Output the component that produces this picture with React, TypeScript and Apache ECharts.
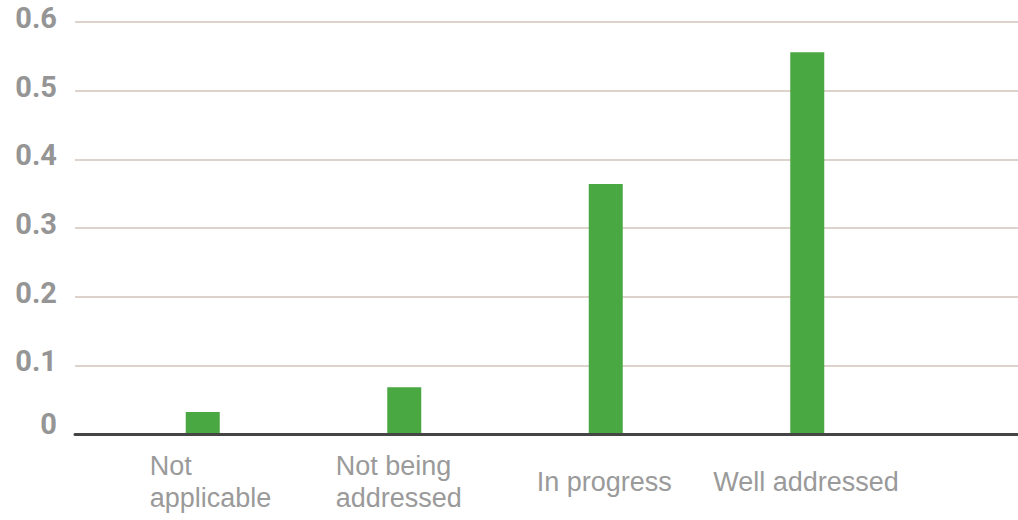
import React, { useEffect, useRef } from "react";
import * as echarts from "echarts";

const categories = ["Not\napplicable", "Not being\naddressed", "In progress", "Well addressed"];
const values = [0.032, 0.068, 0.364, 0.556];
const yTicks = { min: 0, max: 0.6, interval: 0.1 };
const labelPads = [[0, 0, 0, 18], [0, 8, 0, 0], [0, 0, 0, 0], [0, 0, 0, 0]];

export default function App() {
  const ref = useRef<HTMLDivElement>(null);
  useEffect(() => {
    if (!ref.current) return;
    const chart = echarts.init(ref.current, undefined, { renderer: "svg" });
    const yFont = "Roboto, 'DejaVu Sans Condensed', sans-serif";
    const xFontFamily = "'Liberation Sans', Arial, sans-serif";
    const xFontSize = 27;
    const ctx = document.createElement("canvas").getContext("2d");
    const measure = (s: string) => {
      if (!ctx) return s.length * xFontSize * 0.5;
      ctx.font = xFontSize + "px " + xFontFamily;
      return ctx.measureText(s).width;
    };
    const rich: Record<string, any> = {};
    categories.forEach((c, i) => {
      const w = Math.ceil(Math.max(...c.split("\n").map(measure))) + 2;
      rich["t" + i] = {
        fontFamily: xFontFamily,
        fontSize: xFontSize,
        color: "#9a9a9a",
        lineHeight: 32,
        width: w,
        align: "left",
        padding: labelPads[i],
      };
    });
    chart.setOption({
      animation: false,
      backgroundColor: "#ffffff",
      grid: [
        { left: 75, right: 0, top: 22, bottom: 86 },
        { left: 102, right: 110, top: 22, bottom: 86 },
      ],
      xAxis: [
        {
          type: "category",
          gridIndex: 0,
          data: [""],
          axisLine: { show: true, lineStyle: { color: "#454545", width: 3 } },
          axisTick: { show: false },
          axisLabel: { show: false },
          splitLine: { show: false },
          z: 5,
        },
        {
          type: "category",
          gridIndex: 1,
          data: categories,
          axisLine: { show: false },
          axisTick: { show: false },
          splitLine: { show: false },
          axisLabel: {
            interval: 0,
            margin: 48,
            verticalAlign: "middle",
            formatter: (v: string, idx: number) =>
              v.split("\n").map((l) => "{t" + idx + "|" + l + "}").join("\n"),
            rich,
          },
        },
      ],
      yAxis: [
        {
          type: "value",
          gridIndex: 0,
          min: yTicks.min,
          max: yTicks.max,
          interval: yTicks.interval,
          axisLine: { show: false },
          axisTick: { show: false },
          splitLine: { show: true, lineStyle: { color: "#ddd3cc", width: 2 } },
          axisLabel: {
            margin: 18,
            formatter: (v: number) => (v === 0 ? "{z|0}" : "{n|" + v.toFixed(1) + "}"),
            rich: {
              n: {
                fontFamily: yFont,
                fontWeight: "bold",
                fontSize: 29,
                color: "#959595",
                padding: [0, 0, 8, 0],
              },
              z: {
                fontFamily: yFont,
                fontWeight: "bold",
                fontSize: 29,
                color: "#959595",
                padding: [0, 0, 20, 0],
              },
            },
          },
        },
        {
          type: "value",
          gridIndex: 1,
          min: yTicks.min,
          max: yTicks.max,
          interval: yTicks.interval,
          show: false,
          splitLine: { show: false },
        },
      ],
      series: [
        {
          type: "bar",
          xAxisIndex: 1,
          yAxisIndex: 1,
          data: values,
          barWidth: 34,
          itemStyle: { color: "#4aa843" },
          z: 3,
        },
      ],
    });
    return () => chart.dispose();
  }, []);
  return (
    <div
      ref={ref}
      style={{ position: "fixed", left: 0, top: 0, width: 1018, height: 520 }}
    />
  );
}
